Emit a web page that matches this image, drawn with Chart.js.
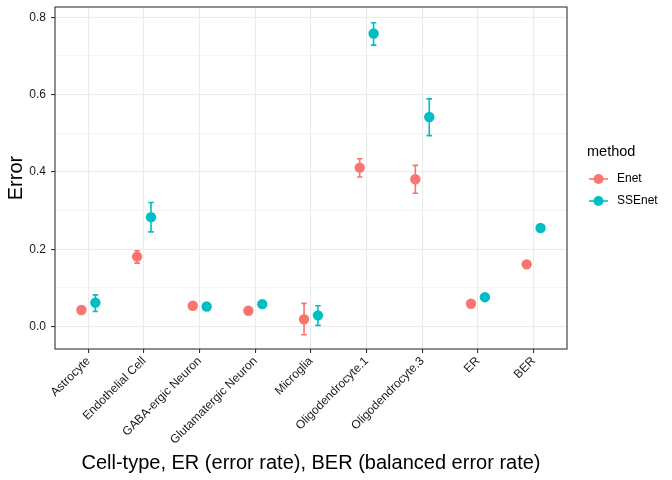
<!DOCTYPE html>
<html>
<head>
<meta charset="utf-8">
<script src="https://cdn.jsdelivr.net/npm/chart.js@4/dist/chart.umd.min.js"></script>
<style>
  html, body { margin: 0; padding: 0; background: #fff; }
  #wrap { width: 672px; height: 480px; }
</style>
</head>
<body>
<div id="wrap"><canvas id="errChart" width="672" height="480"></canvas></div>
<script>
// data
const categories = ['Astrocyte', 'Endothelial Cell', 'GABA-ergic Neuron', 'Glutamatergic Neuron', 'Microglia',
    'Oligodendrocyte.1', 'Oligodendrocyte.3', 'ER', 'BER'];
const methods = ['Enet', 'SSEnet'];

const enetValues = [0.043, 0.181, 0.054, 0.041, 0.019, 0.411, 0.381, 0.059, 0.161];
const enetLow    = [0.037, 0.164, 0.048, 0.035, -0.021, 0.387, 0.345, 0.054, 0.156];
const enetHigh   = [0.049, 0.196, 0.060, 0.047, 0.060, 0.434, 0.417, 0.064, 0.166];

const ssenetValues = [0.062, 0.283, 0.052, 0.058, 0.029, 0.758, 0.542, 0.076, 0.255];
const ssenetLow    = [0.039, 0.245, 0.046, 0.052, 0.003, 0.728, 0.494, 0.071, 0.250];
const ssenetHigh   = [0.082, 0.321, 0.058, 0.064, 0.054, 0.786, 0.589, 0.081, 0.260];

const yTicks = [0, 0.1, 0.2, 0.3, 0.4, 0.5, 0.6, 0.7, 0.8];
const yTickLabels = ['0.0', '', '0.2', '', '0.4', '', '0.6', '', '0.8'];

const colors = ['#F8766D', '#00BFC4'];
const dodge = 0.125;
const font = "'Liberation Sans', Arial, Helvetica, sans-serif";

function toPoints(values, offset) {
    return values.map((v, i) => ({x: i + 1 + offset, y: v}));
}

const seriesValues = [enetValues, ssenetValues];
const seriesLow = [enetLow, ssenetLow];
const seriesHigh = [enetHigh, ssenetHigh];

// error bars, drawn under the points
const errorBars = {
    id: 'errorBars',
    beforeDatasetsDraw(chart) {
        const ctx = chart.ctx;
        const xs = chart.scales.x, ys = chart.scales.y;
        ctx.save();
        seriesValues.forEach((vals, s) => {
            const off = s === 0 ? -dodge : dodge;
            ctx.strokeStyle = colors[s];
            ctx.lineWidth = 1.6;
            vals.forEach((v, i) => {
                const xc = xs.getPixelForValue(i + 1 + off);
                const x0 = xs.getPixelForValue(i + 1 + off - 0.05);
                const x1 = xs.getPixelForValue(i + 1 + off + 0.05);
                const yl = ys.getPixelForValue(seriesLow[s][i]);
                const yh = ys.getPixelForValue(seriesHigh[s][i]);
                ctx.beginPath();
                ctx.moveTo(xc, yl); ctx.lineTo(xc, yh);
                ctx.moveTo(x0, yl); ctx.lineTo(x1, yl);
                ctx.moveTo(x0, yh); ctx.lineTo(x1, yh);
                ctx.stroke();
            });
        });
        ctx.restore();
    }
};

// panel border and legend
const panelAndLegend = {
    id: 'panelAndLegend',
    afterDraw(chart) {
        const ctx = chart.ctx;
        const a = chart.chartArea;
        ctx.save();
        ctx.strokeStyle = '#333333';
        ctx.lineWidth = 1.1;
        ctx.strokeRect(a.left, a.top, a.right - a.left, a.bottom - a.top);

        ctx.fillStyle = '#000';
        ctx.font = '14.5px ' + font;
        ctx.textBaseline = 'middle';
        ctx.textAlign = 'left';
        ctx.fillText('method', 587, 152);
        methods.forEach((m, i) => {
            const y = 179 + i * 22;
            ctx.strokeStyle = colors[i];
            ctx.lineWidth = 1.6;
            ctx.beginPath();
            ctx.moveTo(589, y); ctx.lineTo(608, y);
            ctx.stroke();
            ctx.fillStyle = colors[i];
            ctx.beginPath();
            ctx.arc(598.5, y, 5, 0, Math.PI * 2);
            ctx.fill();
            ctx.fillStyle = '#000';
            ctx.font = '12px ' + font;
            ctx.fillText(m, 617, y);
        });
        ctx.restore();
    }
};

const ctx = document.getElementById('errChart').getContext('2d');
new Chart(ctx, {
    type: 'scatter',
    data: {
        datasets: methods.map((m, s) => ({
            label: m,
            data: toPoints(seriesValues[s], s === 0 ? -dodge : dodge),
            backgroundColor: colors[s],
            borderColor: colors[s],
            borderWidth: 0,
            pointRadius: 5.2,
        })),
    },
    options: {
        responsive: false,
        animation: false,
        layout: {padding: {top: 7, right: 105, left: 0, bottom: 0}},
        scales: {
            x: {
                type: 'linear',
                min: 0.4,
                max: 9.6,
                afterBuildTicks: axis => axis.ticks = categories.map((c, i) => ({value: i + 1})),
                afterFit: scale => {
                    scale.height = 131;
                    scale.paddingLeft = 0;
                    scale.paddingRight = 0;
                },
                grid: {
                    color: '#EBEBEB',
                    lineWidth: 1.1,
                    tickColor: '#333333',
                    tickLength: 4,
                    tickWidth: 1.1,
                },
                border: {display: false},
                ticks: {
                    callback: (value) => categories[Math.round(value) - 1],
                    color: '#1A1A1A',
                    font: {family: font, size: 12},
                    maxRotation: 45,
                    minRotation: 45,
                    autoSkip: false,
                    padding: 1,
                },
                title: {
                    display: true,
                    text: 'Cell-type, ER (error rate), BER (balanced error rate)',
                    color: '#000',
                    font: {family: font, size: 20},
                    padding: {top: 0, bottom: 5},
                },
            },
            y: {
                min: -0.058,
                max: 0.8266,
                afterBuildTicks: axis => axis.ticks = yTicks.map(v => ({value: v})),
                afterFit: scale => {
                    scale.width = 55;
                    scale.paddingTop = 0;
                    scale.paddingBottom = 0;
                },
                grid: {
                    color: '#EBEBEB',
                    lineWidth: ctx2 => yTickLabels[ctx2.index] ? 1.1 : 0.55,
                    tickColor: ctx2 => yTickLabels[ctx2.index] ? '#333333' : 'rgba(0,0,0,0)',
                    tickLength: 4,
                    tickWidth: 1.1,
                },
                border: {display: false},
                ticks: {
                    callback: (value, index) => yTickLabels[index],
                    color: '#1A1A1A',
                    font: {family: font, size: 12},
                    padding: 5,
                },
                title: {
                    display: true,
                    text: 'Error',
                    color: '#000',
                    font: {family: font, size: 20},
                    padding: {top: 4, bottom: 0},
                },
            },
        },
        plugins: {
            legend: {display: false},
            tooltip: {enabled: false},
        },
    },
    plugins: [errorBars, panelAndLegend],
});
</script>
</body>
</html>
